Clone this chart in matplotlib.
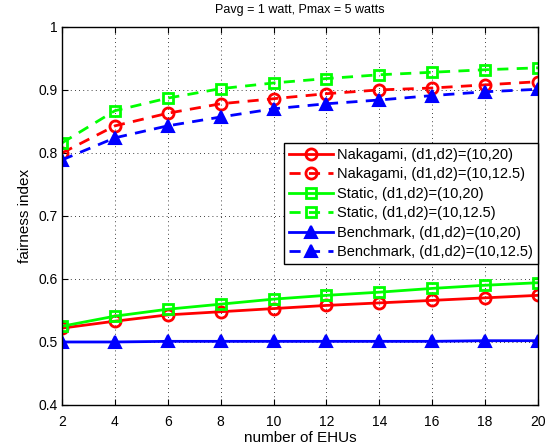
import matplotlib
matplotlib.use("Agg")
import matplotlib.pyplot as plt

plt.rcParams['font.family'] = ['Liberation Sans', 'DejaVu Sans']

x = [2, 4, 6, 8, 10, 12, 14, 16, 18, 20]
nak_20 = [0.522, 0.533, 0.543, 0.548, 0.553, 0.558, 0.562, 0.566, 0.570, 0.574]
nak_125 = [0.800, 0.843, 0.863, 0.878, 0.886, 0.894, 0.900, 0.903, 0.908, 0.913]
sta_20 = [0.525, 0.541, 0.552, 0.560, 0.568, 0.574, 0.579, 0.585, 0.590, 0.594]
sta_125 = [0.816, 0.867, 0.887, 0.902, 0.911, 0.918, 0.924, 0.928, 0.932, 0.935]
ben_20 = [0.500, 0.500, 0.501, 0.501, 0.501, 0.501, 0.501, 0.501, 0.502, 0.502]
ben_125 = [0.789, 0.824, 0.843, 0.857, 0.870, 0.878, 0.884, 0.891, 0.897, 0.901]

labels = ["Nakagami, (d1,d2)=(10,20)", "Nakagami, (d1,d2)=(10,12.5)",
          "Static, (d1,d2)=(10,20)", "Static, (d1,d2)=(10,12.5)",
          "Benchmark, (d1,d2)=(10,20)", "Benchmark, (d1,d2)=(10,12.5)"]

fig = plt.figure(figsize=(5.45, 4.48), dpi=100)
ax = fig.add_axes([0.114, 0.096, 0.873, 0.844])

red, green, blue = '#ff0000', '#00ff00', '#0000ff'
lw = 2
ax.plot(x, nak_20, '-', color=red, lw=lw, marker='o', ms=8, mfc='none', mew=2, label=labels[0])
ax.plot(x, nak_125, '--', color=red, lw=lw, marker='o', ms=8, mfc='none', mew=2, label=labels[1], dashes=(4, 3))
ax.plot(x, sta_20, '-', color=green, lw=lw, marker='s', ms=7, mfc='none', mew=2, label=labels[2])
ax.plot(x, sta_125, '--', color=green, lw=lw, marker='s', ms=7, mfc='none', mew=2, label=labels[3], dashes=(4, 3))
ax.plot(x, ben_20, '-', color=blue, lw=lw, marker='^', ms=9, mfc=blue, mew=1.5, label=labels[4])
ax.plot(x, ben_125, '--', color=blue, lw=lw, marker='^', ms=9, mfc=blue, mew=1.5, label=labels[5], dashes=(4, 3))

ax.set_xlim(2, 20)
ax.set_ylim(0.4, 1.0)
ax.set_xticks(x)
ax.set_yticks([0.4, 0.5, 0.6, 0.7, 0.8, 0.9, 1.0])
ax.set_yticklabels(['0.4', '0.5', '0.6', '0.7', '0.8', '0.9', '1'])
ax.grid(True, color='black', linestyle=(0, (1, 4)), linewidth=0.6)
ax.tick_params(direction='in', labelsize=10, top=True, right=True, length=4)
ax.tick_params(axis='x', pad=7)
for s in ax.spines.values():
    s.set_linewidth(1)
ax.set_xlabel("number of EHUs", fontsize=11, labelpad=2)
ax.set_ylabel("fairness index", fontsize=11)
ax.set_title("Pavg = 1 watt, Pmax = 5 watts", fontsize=9, pad=10)

leg = ax.legend(loc='upper right', bbox_to_anchor=(1.0, 0.693), borderaxespad=0,
                fontsize=10.5, fancybox=False, framealpha=1, edgecolor='black',
                handlelength=3, labelspacing=0.37, borderpad=0.35, handletextpad=0.3)
leg.get_frame().set_linewidth(1)

fig.savefig("out.png", dpi=100)
